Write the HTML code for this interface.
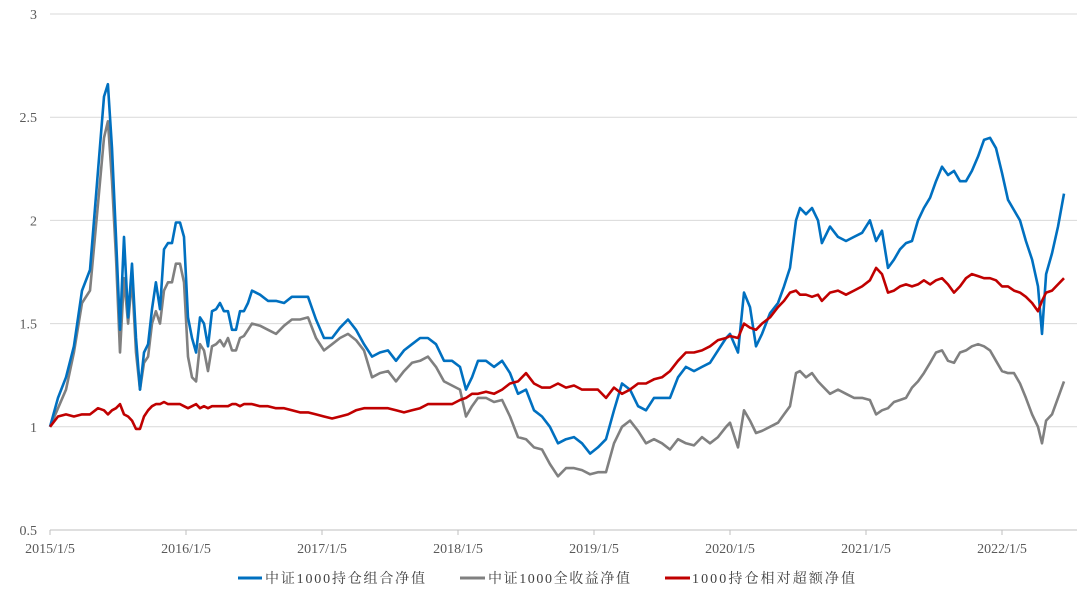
<!DOCTYPE html>
<html><head><meta charset="utf-8"><style>
body{margin:0;background:#fff;}
svg text{font-family:"Liberation Serif","Noto Serif CJK SC",serif;}
</style></head><body>
<svg id="chart" width="1077" height="591" xmlns="http://www.w3.org/2000/svg">
<g id="grid"></g>
<g id="yaxis"></g>
<g id="xaxis"></g>
<g id="series"></g>
<g font-size="14">
 <g><line x1="238" y1="578" x2="262" y2="578" stroke="#0070c0" stroke-width="3"/><text x="265" y="583" fill="#404040" textLength="160" lengthAdjust="spacing">中证1000持仓组合净值</text></g>
 <g><line x1="460" y1="578" x2="485" y2="578" stroke="#808080" stroke-width="3"/><text x="488" y="583" fill="#404040" textLength="142" lengthAdjust="spacing">中证1000全收益净值</text></g>
 <g><line x1="665" y1="578" x2="690" y2="578" stroke="#c00000" stroke-width="3"/><text x="692" y="583" fill="#404040" textLength="163" lengthAdjust="spacing">1000持仓相对超额净值</text></g>
</g>
</svg>
<script>
const yTicks=[0.5,1,1.5,2,2.5,3];
const xTickLabels=["2015/1/5","2016/1/5","2017/1/5","2018/1/5","2019/1/5","2020/1/5","2021/1/5","2022/1/5"];
const times=[0,.059,.118,.176,.235,.294,.353,.397,.426,.456,.485,.515,.544,.574,.603,.632,.662,.691,.721,.75,.779,.809,.838,.868,.897,.926,.956,.985,1.015,1.044,1.074,1.103,1.132,1.162,1.191,1.221,1.25,1.279,1.309,1.338,1.368,1.397,1.426,1.456,1.485,1.544,1.603,1.662,1.721,1.779,1.838,1.897,1.956,2.015,2.074,2.132,2.191,2.25,2.309,2.368,2.426,2.485,2.544,2.603,2.662,2.721,2.779,2.838,2.897,2.956,3.015,3.059,3.103,3.147,3.206,3.265,3.324,3.382,3.441,3.5,3.559,3.618,3.676,3.735,3.794,3.853,3.912,3.971,4.029,4.088,4.147,4.206,4.265,4.324,4.382,4.441,4.5,4.559,4.618,4.676,4.735,4.794,4.853,4.912,4.971,5.0,5.059,5.103,5.147,5.191,5.235,5.294,5.353,5.397,5.441,5.485,5.515,5.559,5.603,5.647,5.676,5.735,5.794,5.853,5.912,5.971,6.029,6.074,6.118,6.162,6.206,6.25,6.294,6.338,6.382,6.426,6.471,6.515,6.559,6.603,6.647,6.691,6.735,6.779,6.824,6.868,6.912,6.956,7.0,7.044,7.088,7.132,7.176,7.221,7.265,7.294,7.324,7.368,7.412,7.456];
const portfolio=[1.00,1.14,1.24,1.39,1.66,1.76,2.24,2.60,2.66,2.35,1.92,1.47,1.92,1.53,1.79,1.43,1.18,1.36,1.40,1.57,1.70,1.57,1.86,1.89,1.89,1.99,1.99,1.92,1.53,1.43,1.36,1.53,1.50,1.39,1.56,1.57,1.60,1.56,1.56,1.47,1.47,1.56,1.56,1.60,1.66,1.64,1.61,1.61,1.60,1.63,1.63,1.63,1.52,1.43,1.43,1.48,1.52,1.47,1.40,1.34,1.36,1.37,1.32,1.37,1.40,1.43,1.43,1.40,1.32,1.32,1.29,1.18,1.24,1.32,1.32,1.29,1.32,1.26,1.16,1.18,1.08,1.05,1.00,0.92,0.94,0.95,0.92,0.87,0.90,0.94,1.08,1.21,1.18,1.10,1.08,1.14,1.14,1.14,1.24,1.29,1.27,1.29,1.31,1.37,1.43,1.45,1.36,1.65,1.58,1.39,1.45,1.55,1.60,1.68,1.77,2.00,2.06,2.03,2.06,2.00,1.89,1.97,1.92,1.90,1.92,1.94,2.00,1.90,1.95,1.77,1.81,1.86,1.89,1.90,2.00,2.06,2.11,2.19,2.26,2.22,2.24,2.19,2.19,2.24,2.31,2.39,2.40,2.35,2.23,2.10,2.05,2.00,1.90,1.81,1.68,1.45,1.74,1.84,1.97,2.13];
const indexTR=[1.00,1.09,1.18,1.36,1.60,1.66,2.08,2.40,2.48,2.19,1.82,1.36,1.72,1.50,1.72,1.36,1.18,1.31,1.34,1.50,1.56,1.50,1.66,1.70,1.70,1.79,1.79,1.70,1.34,1.24,1.22,1.40,1.37,1.27,1.39,1.40,1.42,1.39,1.43,1.37,1.37,1.43,1.44,1.47,1.50,1.49,1.47,1.45,1.49,1.52,1.52,1.53,1.43,1.37,1.40,1.43,1.45,1.42,1.37,1.24,1.26,1.27,1.22,1.27,1.31,1.32,1.34,1.29,1.22,1.20,1.18,1.05,1.10,1.14,1.14,1.12,1.13,1.05,0.95,0.94,0.90,0.89,0.82,0.76,0.80,0.80,0.79,0.77,0.78,0.78,0.92,1.00,1.03,0.98,0.92,0.94,0.92,0.89,0.94,0.92,0.91,0.95,0.92,0.95,1.00,1.02,0.90,1.08,1.03,0.97,0.98,1.00,1.02,1.06,1.10,1.26,1.27,1.24,1.26,1.22,1.20,1.16,1.18,1.16,1.14,1.14,1.13,1.06,1.08,1.09,1.12,1.13,1.14,1.19,1.22,1.26,1.31,1.36,1.37,1.32,1.31,1.36,1.37,1.39,1.40,1.39,1.37,1.32,1.27,1.26,1.26,1.21,1.14,1.06,1.00,0.92,1.03,1.06,1.14,1.22];
const excess=[1.00,1.05,1.06,1.05,1.06,1.06,1.09,1.08,1.06,1.08,1.09,1.11,1.06,1.05,1.03,0.99,0.99,1.05,1.08,1.10,1.11,1.11,1.12,1.11,1.11,1.11,1.11,1.10,1.09,1.10,1.11,1.09,1.10,1.09,1.10,1.10,1.10,1.10,1.10,1.11,1.11,1.10,1.11,1.11,1.11,1.10,1.10,1.09,1.09,1.08,1.07,1.07,1.06,1.05,1.04,1.05,1.06,1.08,1.09,1.09,1.09,1.09,1.08,1.07,1.08,1.09,1.11,1.11,1.11,1.11,1.13,1.14,1.16,1.16,1.17,1.16,1.18,1.21,1.22,1.26,1.21,1.19,1.19,1.21,1.19,1.20,1.18,1.18,1.18,1.14,1.19,1.16,1.18,1.21,1.21,1.23,1.24,1.27,1.32,1.36,1.36,1.37,1.39,1.42,1.43,1.44,1.43,1.50,1.48,1.47,1.50,1.53,1.58,1.61,1.65,1.66,1.64,1.64,1.63,1.64,1.61,1.65,1.66,1.64,1.66,1.68,1.71,1.77,1.74,1.65,1.66,1.68,1.69,1.68,1.69,1.71,1.69,1.71,1.72,1.69,1.65,1.68,1.72,1.74,1.73,1.72,1.72,1.71,1.68,1.68,1.66,1.65,1.63,1.60,1.56,1.61,1.65,1.66,1.69,1.72];

const X0=50,X1=1065,Y0=530,Y1=14;
const xScale=t=>X0+t*136;
const yScale=v=>Y0-(v-0.5)/(3-0.5)*(Y0-Y1);
const NS="http://www.w3.org/2000/svg";
function mk(tag,attrs,parent){const e=document.createElementNS(NS,tag);for(const k in attrs)e.setAttribute(k,attrs[k]);parent.appendChild(e);return e;}
const grid=document.getElementById('grid'),ya=document.getElementById('yaxis'),xa=document.getElementById('xaxis'),ser=document.getElementById('series');
yTicks.forEach(v=>{
  const y=yScale(v);
  if(v>0.5){const g=mk('line',{x1:X0,x2:X1+12,y1:y,y2:y,stroke:'#d9d9d9','stroke-width':1},grid);
  
  }
  const t=mk('text',{x:37,y:y+5,'text-anchor':'end','font-size':14,fill:'#595959'},ya);
  t.textContent=String(v);
  
  
});
const ax=mk('line',{x1:X0,x2:X1+12,y1:Y0,y2:Y0,stroke:'#bfbfbf','stroke-width':1},xa);


xTickLabels.forEach((s,i)=>{
  const x=xScale(i);
  const tk=mk('line',{x1:x,x2:x,y1:Y0,y2:Y0+5,stroke:'#bfbfbf'},xa);
  
  
  const t=mk('text',{x:x,y:553,'text-anchor':'middle','font-size':14,fill:'#595959'},xa);
  t.textContent=s;
  
  
});
function drawLine(vals,color,name){
  const n=Math.min(vals.length,times.length);
  let d='';
  for(let i=0;i<n;i++)d+=(i?'L':'M')+xScale(times[i]).toFixed(1)+' '+yScale(vals[i]).toFixed(1);
  const p=mk('path',{d:d,fill:'none',stroke:color,'stroke-width':2.6,'stroke-linejoin':'round'},ser);
  
  
}
drawLine(indexTR,'#808080','index-total-return-line');
drawLine(portfolio,'#0070c0','portfolio-line');
drawLine(excess,'#c00000','excess-line');
</script>
</body></html>
